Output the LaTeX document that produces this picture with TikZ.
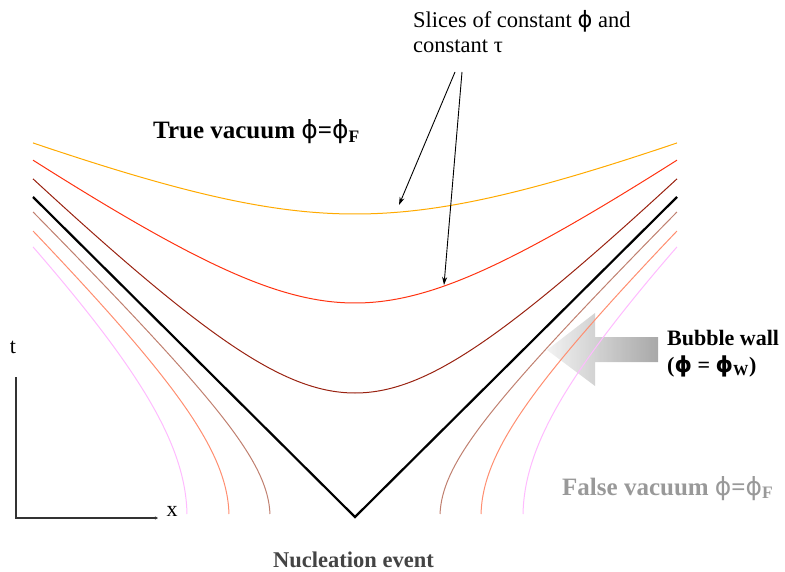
\documentclass[tikz,border=0pt]{standalone}
\usepackage{fontspec}
\setmainfont{Liberation Serif}
\newfontfamily\symfnt{DejaVu Sans}
\usetikzlibrary{arrows.meta}
\definecolor{cYel}{HTML}{FFAA00}
\definecolor{cRed}{HTML}{FF3311}
\definecolor{cBrn}{HTML}{992211}
\definecolor{cRos}{HTML}{C08070}
\definecolor{cSal}{HTML}{FF8E70}
\definecolor{cPnk}{HTML}{FFBBFF}
\definecolor{cArL}{HTML}{F0F0F0}
\definecolor{cArR}{HTML}{999999}
\definecolor{cGrayTxt}{HTML}{999999}
\definecolor{cDarkTxt}{HTML}{444444}
\newcommand{\myphi}{{\symfnt ϕ}}
\newcommand{\thinphi}{{\mdseries\symfnt ϕ}}
\tikzset{
  curve/.style={line width=1pt},
  cone/.style={line width=2.2pt, black, line join=miter},
  axisline/.style={line width=1.1pt, black!80},
  annot/.style={line width=0.9pt, -{Stealth[length=8pt,width=5pt]}},
  lbl/.style={anchor=base west, inner sep=0pt},
}
\begin{document}
\begin{tikzpicture}[x=1pt,y=-1pt]
\useasboundingbox (0,0) rectangle (785,572);

% block arrow (bubble wall)
\path[left color=cArL, right color=cArR, fill opacity=0.85]
  (547,350) -- (595,313) -- (595,337) -- (658,337) -- (658,362) -- (595,362) -- (595,386) -- cycle;

% slices of constant tau (inside light cone)
\draw[curve, cYel] plot[domain=-322:322, samples=121, smooth]
  ({355+\x}, {214-40*(sqrt((\x/100)*(\x/100)+2.03*2.03)-2.03)});
\draw[curve, cRed] plot[domain=-322:322, samples=121, smooth]
  ({355+\x}, {303-70*(sqrt((\x/100)*(\x/100)+1.52*1.52)-1.52)});
\draw[curve, cBrn] plot[domain=-322:322, samples=121, smooth]
  ({355+\x}, {393-100*(sqrt((\x/100)*(\x/100)+1.35*1.35)-1.35)});

% outside light cone
\foreach \s in {-1,1}{
  \draw[curve, cRos] plot[domain=3:305, samples=90, smooth]
    ({355+\s*100*sqrt((1.018*\x/100)*(1.018*\x/100)+0.85*0.85)}, {517-\x});
  \draw[curve, cSal] plot[domain=3:286, samples=90, smooth]
    ({355+\s*100*sqrt((1.036*\x/100)*(1.036*\x/100)+1.26*1.26)}, {517-\x});
  \draw[curve, cPnk] plot[domain=3:270, samples=90, smooth]
    ({355+\s*100*sqrt((1.017*\x/100)*(1.017*\x/100)+1.68*1.68)}, {517-\x});
}

% light cone
\coordinate (apex) at (355,517);
\coordinate (coneL) at (33,197);
\coordinate (coneR) at (677,197);
\draw[cone] (coneL) -- (apex) -- (coneR);

% axes
\coordinate (origin) at (16,518);
\coordinate (ttop) at (16,377);
\coordinate (xend) at (158,518);
\draw[axisline, -{Stealth[length=3pt,width=3pt]}] (ttop) -- (origin) -- (xend);
\node[font=\fontsize{22}{26}\selectfont] (tlab) at (13,347) {t};
\node[font=\fontsize{22}{26}\selectfont] (xlab) at (172,511) {x};

% labels
\node[lbl, font=\fontsize{22.5}{27}\selectfont] (slices1) at (413,28) {Slices of constant \myphi{} and};
\node[lbl, font=\fontsize{22.5}{27}\selectfont] (slices2) at (413,53) {constant τ};
\node[lbl, font=\bfseries\fontsize{25}{30}\selectfont] (truev) at (153,139) {True vacuum \thinphi=\thinphi\textsubscript{F}};
\node[lbl, font=\bfseries\fontsize{22}{26}\selectfont] (bubble1) at (667,345) {Bubble wall};
\node[lbl, font=\bfseries\fontsize{22}{26}\selectfont] (bubble2) at (667,372) {(\myphi{} = \myphi\textsubscript{W})};
\node[lbl, font=\bfseries\fontsize{25}{30}\selectfont, text=cGrayTxt] (falsev) at (562,495) {False vacuum \thinphi=\thinphi\textsubscript{F}};
\node[lbl, font=\bfseries\fontsize{22.5}{27}\selectfont, text=cDarkTxt] (nucl) at (273,567) {Nucleation event};

% annotation arrows
\coordinate (a1s) at (455,72);
\coordinate (a1e) at (399,205);
\coordinate (a2s) at (462,72);
\coordinate (a2e) at (444,285);
\draw[annot] (a1s) -- (a1e);
\draw[annot] (a2s) -- (a2e);
\end{tikzpicture}
\end{document}
